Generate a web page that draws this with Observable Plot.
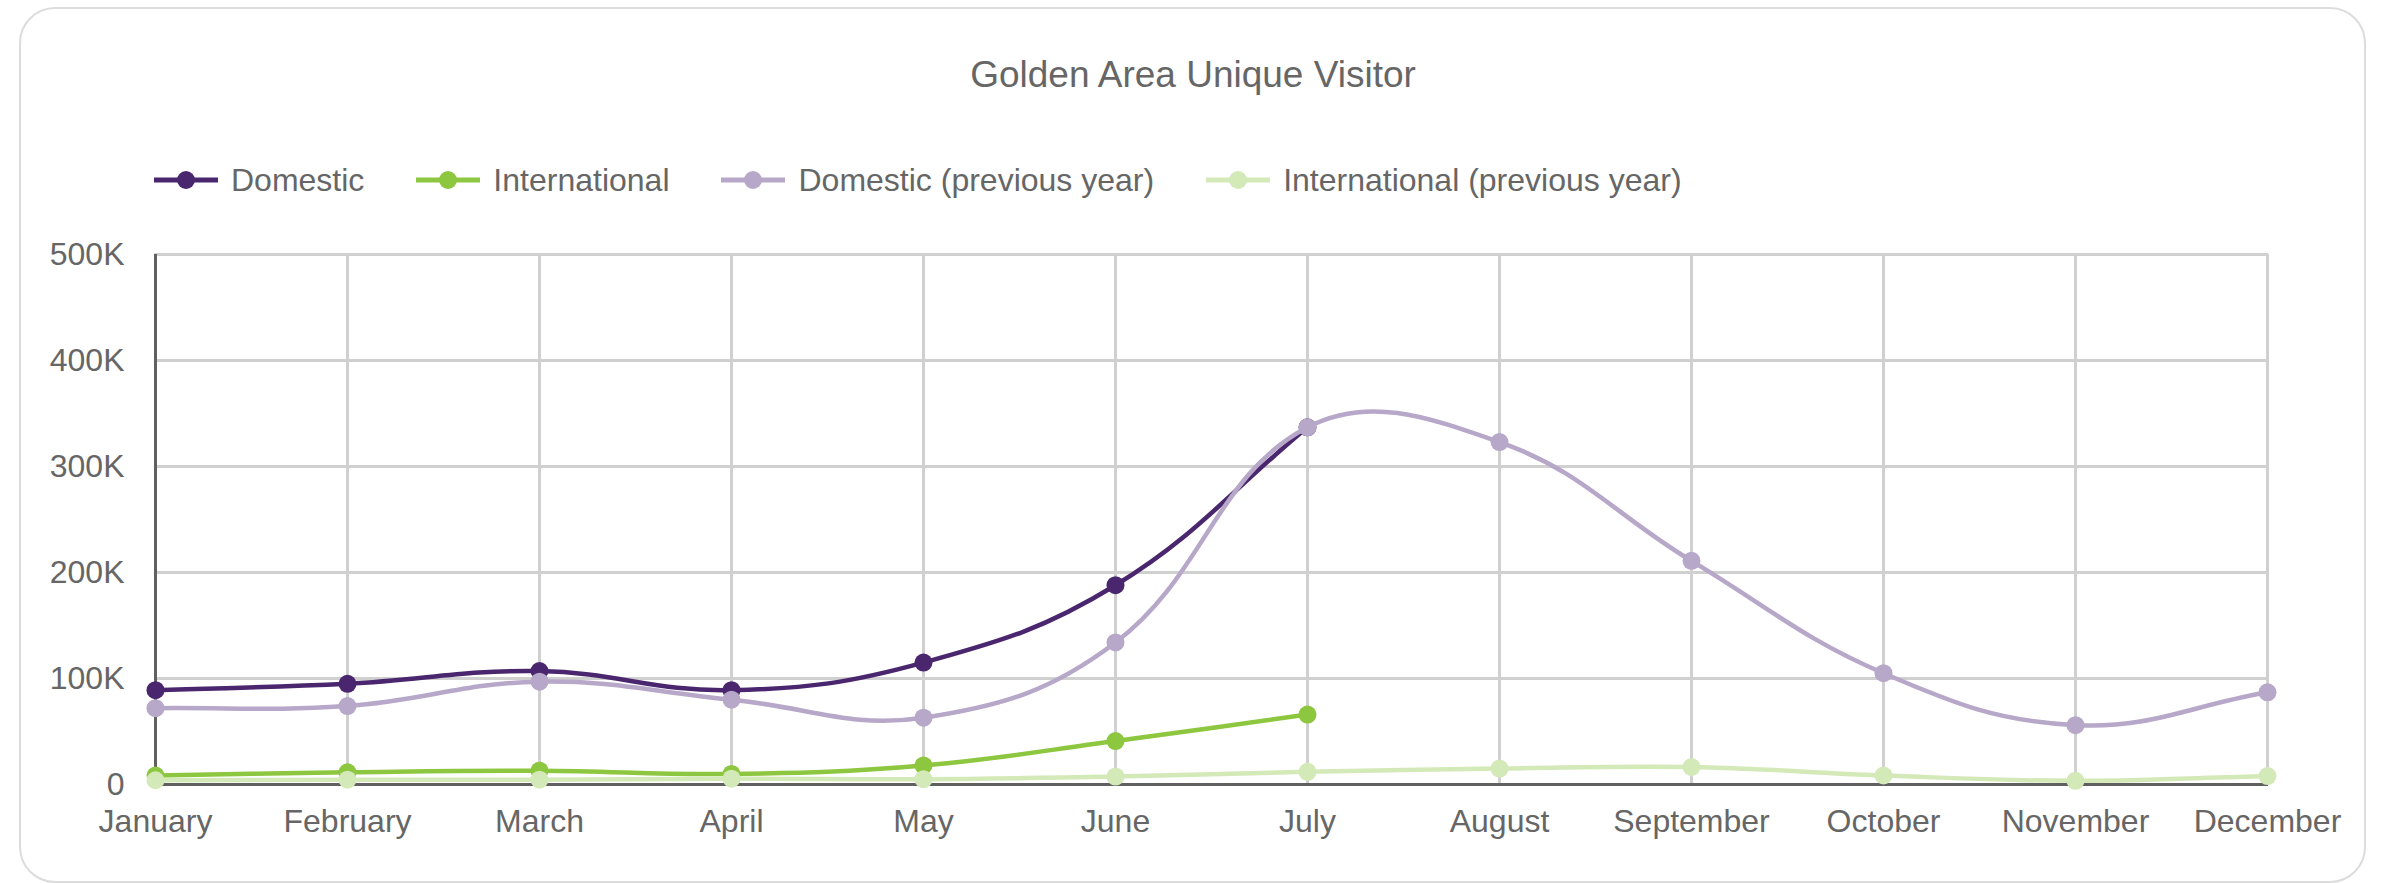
<!DOCTYPE html>
<html>
<head>
<meta charset="utf-8">
<script src="https://cdn.jsdelivr.net/npm/d3@7"></script>
<script src="https://cdn.jsdelivr.net/npm/@observablehq/plot@0.6"></script>
<style>
  html, body { margin: 0; padding: 0; background: #fff; }
  body { width: 2386px; height: 883px; position: relative; overflow: hidden; font-family: "Liberation Sans", Arial, sans-serif; color: #666; }
  #card { position: absolute; left: 19px; top: 7px; width: 2347px; height: 876px; box-sizing: border-box; border: 2px solid #dcdcdc; border-radius: 36px; }
  #title { position: absolute; left: 0; top: 56px; width: 2386px; text-align: center; font-size: 37px; line-height: 37px; color: #666; }
  #legend { position: absolute; left: 154px; top: 164px; height: 32px; display: flex; align-items: center; gap: 52px; font-size: 32px; line-height: 32px; color: #666; }
  .item { display: flex; align-items: center; gap: 13px; white-space: nowrap; }
  #chart { position: absolute; left: 0; top: 220px; }
</style>
</head>
<body>
<div id="card"></div>
<div id="title">Golden Area Unique Visitor</div>
<div id="legend"></div>
<div id="chart"></div>
<script>
const months = ["January","February","March","April","May","June","July","August","September","October","November","December"];
const seriesNames = ["Domestic", "International", "Domestic (previous year)", "International (previous year)"];
const seriesColors = ["#4a266e", "#8dc63f", "#b7a7c8", "#d3e9b8"];
const domestic = [89000, 95000, 107000, 89000, 115000, 188000, 337000];
const international = [8500, 11500, 13000, 10000, 18000, 41000, 66000];
const domesticPrev = [72000, 74000, 97000, 80000, 63000, 134000, 337000, 323000, 211000, 105000, 56000, 87000];
const internationalPrev = [4000, 4500, 4500, 5500, 5000, 7500, 12000, 15000, 16500, 8500, 3500, 8000];
const yTicks = [0, 100000, 200000, 300000, 400000, 500000];

const seriesValues = [domestic, international, domesticPrev, internationalPrev];

const W = 2386, H = 663, mt = 34, mb = 99, ml = 154, mr = 118;

// Chart.js-style spline (tension 0.4) with control points capped to the plot area
function chartjsSpline(tension, top, bottom) {
  const clamp = v => Math.max(top, Math.min(bottom, v));
  return function(context) {
    let pts = [];
    return {
      areaStart() {}, areaEnd() {},
      lineStart() { pts = []; },
      point(x, y) { pts.push([+x, +y]); },
      lineEnd() {
        const n = pts.length;
        if (!n) return;
        const cps = pts.map((p, i) => {
          const prev = pts[i - 1] || p, next = pts[i + 1] || p;
          const d01 = Math.hypot(p[0] - prev[0], p[1] - prev[1]);
          const d12 = Math.hypot(next[0] - p[0], next[1] - p[1]);
          let s01 = d01 / (d01 + d12), s12 = d12 / (d01 + d12);
          if (!isFinite(s01)) s01 = 0;
          if (!isFinite(s12)) s12 = 0;
          const fa = tension * s01, fb = tension * s12;
          return {
            prev: [p[0] - fa * (next[0] - prev[0]), clamp(p[1] - fa * (next[1] - prev[1]))],
            next: [p[0] + fb * (next[0] - prev[0]), clamp(p[1] + fb * (next[1] - prev[1]))]
          };
        });
        context.moveTo(pts[0][0], pts[0][1]);
        if (n === 1) { context.lineTo(pts[0][0], pts[0][1]); return; }
        for (let i = 1; i < n; i++) {
          context.bezierCurveTo(cps[i - 1].next[0], cps[i - 1].next[1], cps[i].prev[0], cps[i].prev[1], pts[i][0], pts[i][1]);
        }
      }
    };
  };
}
const curve = chartjsSpline(0.4, mt, H - mb);

// Legend
const legend = document.getElementById("legend");
seriesNames.forEach((name, i) => {
  const item = document.createElement("div");
  item.className = "item";
  item.innerHTML = `<svg width="64" height="20" style="display:block"><line x1="0" x2="64" y1="10" y2="10" stroke="${seriesColors[i]}" stroke-width="5"/><circle cx="32" cy="10" r="9" fill="${seriesColors[i]}"/></svg><span>${name}</span>`;
  legend.appendChild(item);
});

const marks = [
  Plot.ruleY(yTicks, {stroke: "#d0d0d0", strokeWidth: 3, strokeOpacity: 1}),
  Plot.ruleX(months, {y1: 0, y2: 500000, stroke: "#d0d0d0", strokeWidth: 3, strokeOpacity: 1}),
  Plot.ruleX([months[0]], {y1: 0, y2: 500000, stroke: "#606060", strokeWidth: 3}),
  Plot.ruleY([0], {stroke: "#606060", strokeWidth: 3}),
  Plot.axisY(yTicks, {tickSize: 0, tickPadding: 30, label: null, fontSize: 32, fill: "#666",
    tickFormat: d => d === 0 ? "0" : (d / 1000) + "K"}),
  Plot.axisX({tickSize: 0, tickPadding: 25, label: null, fontSize: 32, fill: "#666"})
];

seriesValues.forEach((vals, i) => {
  const rows = vals.map((v, j) => ({month: months[j], value: v}));
  marks.push(Plot.line(rows, {x: "month", y: "value", stroke: seriesColors[i], strokeWidth: 4.5, curve}));
  marks.push(Plot.dot(rows, {x: "month", y: "value", fill: seriesColors[i], r: 9, stroke: null}));
});

const chart = Plot.plot({
  width: W, height: H,
  marginTop: mt, marginBottom: mb, marginLeft: ml, marginRight: mr,
  x: {type: "point", domain: months, padding: 0},
  y: {domain: [0, 500000]},
  style: {fontFamily: '"Liberation Sans", Arial, sans-serif', fontSize: "32px", color: "#666", background: "transparent", overflow: "visible"},
  marks
});
document.getElementById("chart").appendChild(chart);
</script>
</body>
</html>
